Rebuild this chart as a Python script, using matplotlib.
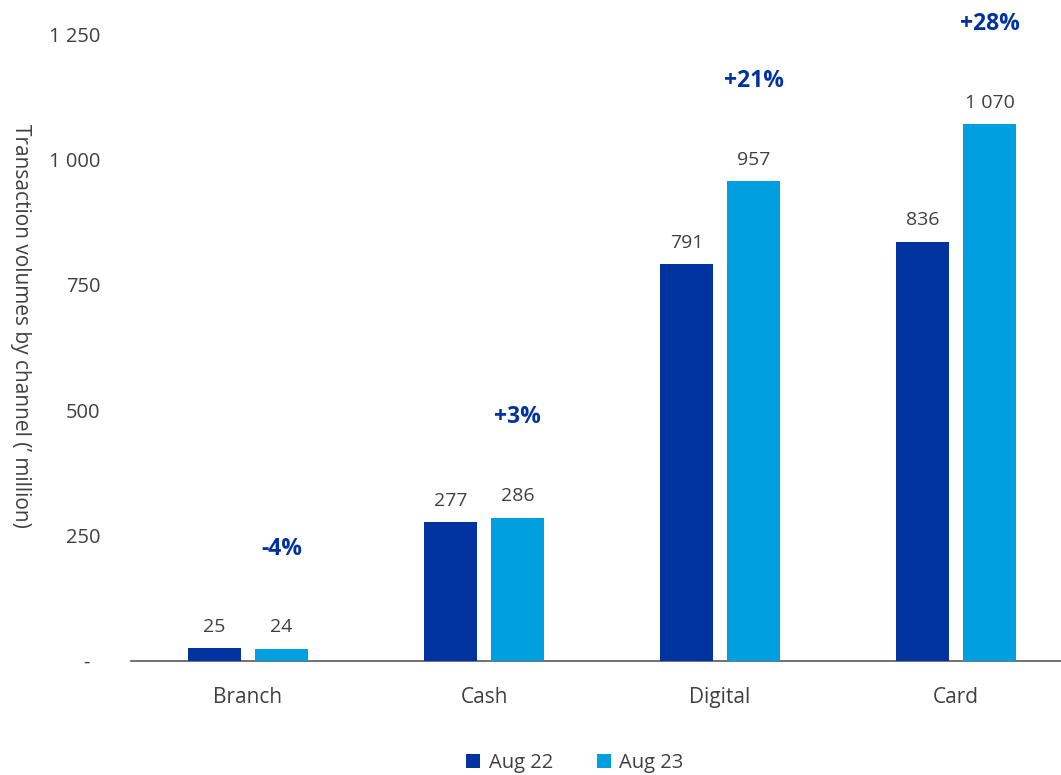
import numpy as np
import matplotlib
matplotlib.use("Agg")
import matplotlib.pyplot as plt
from matplotlib.ticker import FuncFormatter

plt.rcParams['font.family'] = ['Open Sans', 'DejaVu Sans']

channels = ['Branch', 'Cash', 'Digital', 'Card']
aug22 = [25, 277, 791, 836]
aug23 = [24, 286, 957, 1070]
changes = ['-4%', '+3%', '+21%', '+28%']

DARK = '#0033A0'
LIGHT = '#009FDF'
GREY = '#404040'


def fmt_num(v):
    # thousands separated by a space, zero shown as a dash
    if v == 0:
        return '-  '
    return f'{int(v):,}'.replace(',', ' ')


fig = plt.figure(figsize=(10.61, 7.75), dpi=100)
ax = fig.add_axes([131 / 1061, 114 / 775, 930 / 1061, 661 / 775])

x = np.arange(len(channels))
w = 0.225
off = 0.142
b1 = ax.bar(x - off, aug22, w, color=DARK, label='Aug 22', zorder=3)
b2 = ax.bar(x + off, aug23, w, color=LIGHT, label='Aug 23', zorder=3)

for bars in (b1, b2):
    for rect in bars:
        h = rect.get_height()
        ax.annotate(fmt_num(h), (rect.get_x() + rect.get_width() / 2, h),
                    xytext=(0, 9), textcoords='offset points',
                    ha='center', va='bottom', fontsize=14, color=GREY)

# growth labels above the Aug 23 bars
for xi, v, txt in zip(x, aug23, changes):
    ax.text(xi + off, v + 200, txt, ha='center', va='center',
            fontsize=16.5, fontweight='bold', color=DARK)

ax.set_xlim(-0.496, 3.445)
ax.set_ylim(0, 1318)
ax.set_yticks([0, 250, 500, 750, 1000, 1250])
ax.yaxis.set_major_formatter(FuncFormatter(lambda v, p: fmt_num(v)))
ax.set_xticks(x)
ax.set_xticklabels(channels)
ax.tick_params(axis='y', length=0, pad=22, labelsize=14.5, labelcolor=GREY)
ax.tick_params(axis='x', length=0, pad=19, labelsize=15, labelcolor=GREY)

for s in ('top', 'right', 'left'):
    ax.spines[s].set_visible(False)
ax.spines['bottom'].set_color('#595959')
ax.spines['bottom'].set_linewidth(1.2)

fig.text(20 / 1061, 1 - 326 / 775, "Transaction volumes by channel (’ million)",
         rotation=-90, ha='center', va='center', fontsize=15, color=GREY)

fig.legend(handles=[b1, b2], labels=['Aug 22', 'Aug 23'], loc='center',
           bbox_to_anchor=(575 / 1061, 1 - 763 / 775), ncol=2, frameon=False,
           fontsize=14.5, labelcolor=GREY, handlelength=0.7, handleheight=0.7,
           handletextpad=0.4, columnspacing=2.2)

fig.savefig('out.png', dpi=100)
